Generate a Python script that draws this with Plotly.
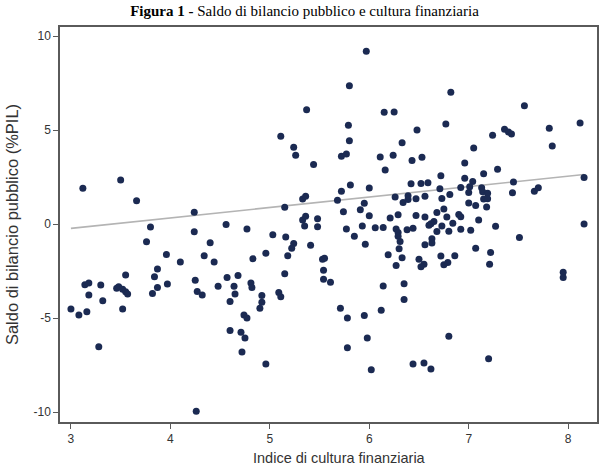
import plotly.graph_objects as go

# Indice di cultura finanziaria (x) and Saldo di bilancio pubblico %PIL (y)
cultura = [
    3.12, 3.50, 3.66, 3.80, 3.76, 4.24, 4.24, 4.56, 4.77, 4.40,
    3.96, 4.10, 4.34, 4.44, 4.83, 3.87, 3.84, 3.55, 3.14, 3.18,
    3.30, 3.18, 3.32, 3.00, 3.08, 3.16, 3.46, 3.48, 3.52, 3.55,
    3.57, 3.52, 3.28, 3.87, 3.82, 3.97, 4.25, 4.27, 4.32, 4.48,
    4.57, 4.68, 4.64, 4.65, 4.60, 4.81, 4.82, 4.92, 4.92, 4.90,
    4.74, 4.77, 4.60, 4.71, 4.75, 4.72, 4.26,
    5.97, 5.80, 5.37, 6.15, 6.25, 5.79, 5.80, 5.11, 5.24, 5.26,
    5.44, 5.72, 5.77, 6.11, 6.24, 6.16, 6.33, 5.81, 6.00, 5.72,
    5.33, 5.36, 5.68, 5.15, 5.74, 5.95, 5.91, 6.00, 6.26, 6.21,
    5.33, 5.36, 5.35, 5.48, 5.48, 5.77, 5.93, 6.06, 6.14, 6.27,
    6.29, 6.29, 5.03, 5.16, 5.85, 5.96, 5.24, 5.22, 5.41, 5.18,
    4.96, 5.53, 5.55, 5.54, 5.54, 5.61, 6.19, 6.27, 6.30, 5.15,
    5.09, 5.11, 5.71, 5.78, 5.95, 6.12, 6.14, 5.98, 5.78, 4.96,
    6.02, 6.29, 6.31,
    6.48, 6.43, 6.53, 6.42, 6.52, 6.59, 6.72, 6.71, 6.34, 6.39,
    6.39, 6.47, 6.56, 6.73, 6.47, 6.56, 6.65, 6.62, 6.60, 6.68,
    6.38, 6.44, 6.68, 6.33, 6.56, 6.63, 6.63, 6.72, 6.50, 6.55,
    6.52, 6.35, 6.35, 6.77, 6.82, 7.56, 7.36, 7.40, 7.43, 7.24,
    7.81, 8.12, 7.84, 7.05, 6.96, 7.29, 7.15, 6.96, 7.04, 7.45,
    6.92, 7.01, 7.00, 7.13, 7.14, 7.19, 7.44, 7.66, 7.70, 8.16,
    8.16, 6.81, 7.00, 7.07, 7.18, 7.15, 7.19, 6.75, 6.78, 6.90,
    6.92, 7.10, 7.27, 6.73, 6.84, 6.92, 7.02, 6.80, 7.51, 7.07,
    7.22, 6.86, 6.79, 6.75, 7.21, 7.95, 7.95, 6.80, 7.20, 6.44,
    6.55, 6.62,
]
saldo = [
    1.90, 2.34, 1.24, -0.16, -0.94, 0.62, -0.41, -0.02, -0.27, -0.99,
    -1.62, -2.02, -1.69, -2.02, -1.85, -2.39, -2.80, -2.71, -3.23, -3.14,
    -3.24, -3.78, -4.08, -4.52, -4.84, -4.66, -3.42, -3.34, -3.47, -3.60,
    -3.72, -4.52, -6.53, -3.37, -3.69, -3.19, -2.99, -3.59, -3.78, -3.31,
    -2.84, -2.74, -3.31, -3.72, -4.12, -3.14, -3.38, -3.80, -4.16, -4.48,
    -4.84, -5.00, -5.66, -5.76, -6.06, -6.81, -9.96,
    9.19, 7.36, 6.08, 5.95, 5.96, 5.25, 4.43, 4.67, 4.09, 3.66,
    3.16, 3.61, 3.72, 3.56, 3.66, 2.87, 4.32, 2.07, 1.91, 1.74,
    1.33, 1.48, 1.27, 0.89, 0.65, 1.11, 0.76, 0.44, 1.44, 0.32,
    0.21, 0.41, -0.11, 0.28, -0.14, -0.27, -0.11, -0.20, -0.18, -0.27,
    -0.45, -0.65, -0.57, -0.69, -0.65, -1.08, -1.04, -1.29, -1.13, -1.69,
    -1.55, -1.87, -1.82, -2.46, -2.94, -3.10, -1.63, -2.21, -1.32, -2.65,
    -3.64, -3.87, -4.48, -5.00, -4.86, -4.59, -3.30, -6.06, -6.58, -7.45,
    -7.75, 0.49, -0.93,
    5.00, 3.38, 3.55, 2.14, 2.15, 2.19, 2.57, 1.87, 1.15, 1.30,
    1.51, 1.35, 1.48, 1.36, 0.46, 0.38, 0.13, 0.01, -0.07, 0.61,
    -0.31, -0.23, -0.40, -1.79, -1.10, -0.78, -1.01, -1.70, -1.87, -2.14,
    -2.27, -3.18, -4.01, 5.32, 7.01, 6.29, 5.04, 4.90, 4.79, 4.72,
    5.09, 5.37, 4.15, 4.05, 3.24, 2.91, 2.67, 2.43, 2.26, 2.24,
    1.94, 1.98, 1.68, 1.93, 1.72, 1.64, 1.66, 1.74, 1.93, 2.48,
    0.00, 1.57, 1.12, 0.99, 0.91, 1.33, 1.34, 0.80, 0.38, 0.51,
    0.39, 0.22, -0.12, -0.11, 0.04, -0.28, -0.33, -0.38, -0.71, -1.29,
    -1.51, -1.69, -2.04, -2.17, -2.14, -2.57, -2.84, -5.97, -7.16, -7.45,
    -7.39, -7.71,
]

# Linear fit line: y = intercept + slope * x
fit_intercept = -1.90
fit_slope = 0.556

x_ticks = [3, 4, 5, 6, 7, 8]
y_ticks = [-10, -5, 0, 5, 10]
y_tick_labels = ["-10", "-5", "0", "5", "10"]

fit_x = [min(cultura), max(cultura)]
fit_y = [fit_intercept + fit_slope * v for v in fit_x]

fig = go.Figure()
fig.add_trace(go.Scatter(
    x=fit_x, y=fit_y, mode="lines",
    line=dict(color="#b4b4b4", width=1.6),
    hoverinfo="skip", showlegend=False,
))
fig.add_trace(go.Scatter(
    x=cultura, y=saldo, mode="markers",
    marker=dict(color="#1b2a52", size=7, line=dict(width=0)),
    showlegend=False,
))

axis_common = dict(
    showgrid=False, zeroline=False, automargin=False,
    showline=True, mirror=True, linecolor="#5a5a5a", linewidth=1.5,
    ticks="outside", tickcolor="#5a5a5a", tickwidth=1.3, ticklen=5,
    tickfont=dict(family="Liberation Sans, Arial, sans-serif", size=12, color="#333333"),
)

fig.update_xaxes(range=[2.89, 8.29], tickvals=x_ticks, **axis_common)
fig.update_yaxes(
    range=[-10.53, 10.48], tickvals=y_ticks, ticktext=y_tick_labels,
    title=dict(text="Saldo di bilancio pubblico (%PIL)",
               font=dict(family="Liberation Sans, Arial, sans-serif", size=16.5, color="#333333"),
               standoff=11),
    **axis_common,
)

fig.add_annotation(
    text="Indice di cultura finanziaria",
    xref="paper", yref="paper", x=0.521, y=-0.091,
    xanchor="center", yanchor="middle", showarrow=False,
    font=dict(family="Liberation Sans, Arial, sans-serif", size=14.5, color="#333333"),
)

fig.update_layout(
    width=609, height=473,
    margin=dict(l=60, r=12, t=27, b=51),
    paper_bgcolor="white", plot_bgcolor="white",
    title=dict(
        text="<b>Figura 1 -</b> Saldo di bilancio pubblico e cultura finanziaria",
        font=dict(family="Liberation Serif, Times New Roman, serif", size=15, color="#000000"),
        x=0.5, xanchor="center", y=0.977, yanchor="middle",
    ),
)

fig.write_html(
    "out.html",
    config={"displayModeBar": False},
    post_script="document.body.style.margin='0';document.body.style.overflow='hidden';",
)
